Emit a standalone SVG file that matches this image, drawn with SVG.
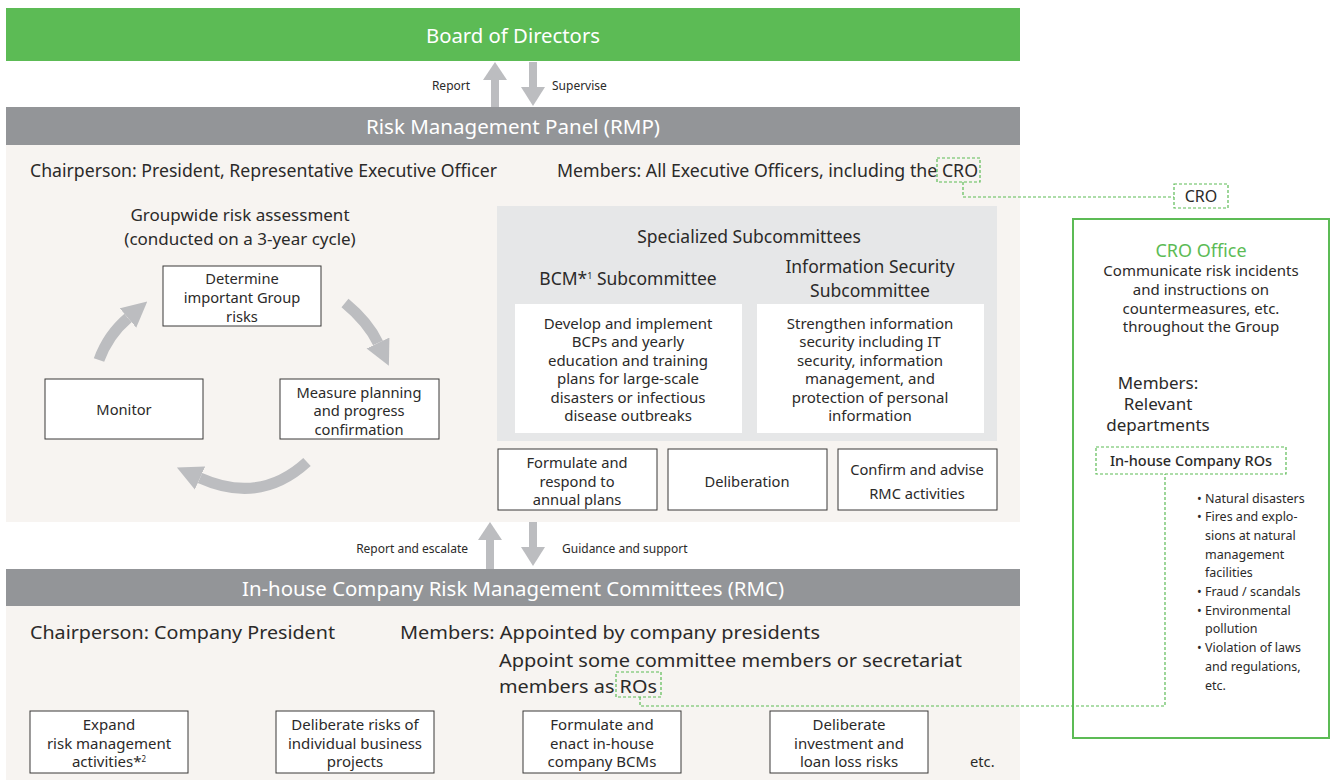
<svg xmlns="http://www.w3.org/2000/svg" width="1330" height="780" viewBox="0 0 1330 780">
<defs>
<style>
text{font-family:"Noto Sans","Open Sans","DejaVu Sans",sans-serif;fill:#2b2a29}
.w{fill:#fff}
.c{text-anchor:middle}
.s12{font-size:12px}
.s14{font-size:14.7px}
.s16{font-size:17.5px}
.s17{font-size:17px}
.s18{font-size:18px}
.b15{font-size:15px}
.box{fill:#fff;stroke:#3a3839;stroke-width:1}
.dash{fill:none;stroke:#5cbb55;stroke-width:1.2;stroke-dasharray:3 2}
.cyc{fill:none;stroke:#bcbdc0;stroke-width:11}
.g{fill:#bcbdc0}
</style>
<marker id="ah" viewBox="0 0 10 10" refX="0" refY="5" markerWidth="2.3" markerHeight="2.4" orient="auto" markerUnits="strokeWidth">
<path d="M0,0 L10,5 L0,10 Z" fill="#bcbdc0"/>
</marker>
</defs>

<!-- backgrounds -->
<rect x="6" y="145" width="1014" height="377" fill="#f7f4f1"/>
<rect x="6" y="606" width="1014" height="174" fill="#f7f4f1"/>

<g id="board">
<rect x="6" y="8" width="1014" height="53" fill="#5cbb55"/>
<text class="w c" x="513" y="43" font-size="20" textLength="174" lengthAdjust="spacingAndGlyphs">Board of Directors</text>
</g>

<g id="rmp">
<rect x="6" y="107" width="1014" height="38" fill="#939598"/>
<text class="w c" x="513" y="134" font-size="19" textLength="294" lengthAdjust="spacingAndGlyphs">Risk Management Panel (RMP)</text>
<text class="s18" x="30" y="177" textLength="467" lengthAdjust="spacingAndGlyphs">Chairperson: President, Representative Executive Officer</text>
<text class="s18" x="557" y="177" textLength="421" lengthAdjust="spacingAndGlyphs">Members: All Executive Officers, including the CRO</text>
<rect class="dash" x="937" y="158" width="43" height="24"/>
</g>

<g id="cycle">
<text class="s17 c" x="240" y="221">Groupwide risk assessment</text>
<text class="s17 c" x="240" y="245">(conducted on a 3-year cycle)</text>
</g>
<g id="determine">
<rect class="box" x="163" y="266" width="158" height="60"/>
<text class="s14 c" x="242" y="284">Determine</text>
<text class="s14 c" x="242" y="303">important Group</text>
<text class="s14 c" x="242" y="322">risks</text>
</g>
<g id="monitor">
<rect class="box" x="45" y="379" width="158" height="60"/>
<text class="s14 c" x="124" y="415">Monitor</text>
</g>
<g id="measure">
<rect class="box" x="280" y="379" width="159" height="60"/>
<text class="s14 c" x="359" y="398">Measure planning</text>
<text class="s14 c" x="359" y="416">and progress</text>
<text class="s14 c" x="359" y="435">confirmation</text>
</g>

<g id="subcommittees">
<rect x="497" y="206" width="500" height="235" fill="#e6e7e8"/>
<text class="s16 c" x="749" y="243">Specialized Subcommittees</text>
<text class="s16 c" x="628" y="285">BCM*<tspan font-size="9" dy="-6">1</tspan><tspan dy="6"> Subcommittee</tspan></text>
<text class="s16 c" x="870" y="273">Information Security</text>
<text class="s16 c" x="870" y="297">Subcommittee</text>
</g>
<g id="bcm">
<rect x="515" y="304" width="227" height="129" fill="#fff"/>
<text class="b15 c" x="628" y="329">Develop and implement</text>
<text class="b15 c" x="628" y="347">BCPs and yearly</text>
<text class="b15 c" x="628" y="366">education and training</text>
<text class="b15 c" x="628" y="384">plans for large-scale</text>
<text class="b15 c" x="628" y="403">disasters or infectious</text>
<text class="b15 c" x="628" y="421">disease outbreaks</text>
</g>
<g id="infosec">
<rect x="757" y="304" width="227" height="129" fill="#fff"/>
<text class="b15 c" x="870" y="329">Strengthen information</text>
<text class="b15 c" x="870" y="347">security including IT</text>
<text class="b15 c" x="870" y="366">security, information</text>
<text class="b15 c" x="870" y="384">management, and</text>
<text class="b15 c" x="870" y="403">protection of personal</text>
<text class="b15 c" x="870" y="421">information</text>
</g>
<g id="formulate">
<rect class="box" x="498" y="449" width="159" height="61"/>
<text class="s14 c" x="577" y="468">Formulate and</text>
<text class="s14 c" x="577" y="487">respond to</text>
<text class="s14 c" x="577" y="505">annual plans</text>
</g>
<g id="deliberation">
<rect class="box" x="668" y="449" width="159" height="61"/>
<text class="s14 c" x="747" y="487">Deliberation</text>
</g>
<g id="confirm">
<rect class="box" x="838" y="449" width="159" height="61"/>
<text class="s14 c" x="917" y="475">Confirm and advise</text>
<text class="s14 c" x="917" y="499">RMC activities</text>
</g>

<g id="rmc">
<rect x="6" y="569" width="1014" height="37" fill="#939598"/>
<text class="w c" x="513" y="596" font-size="19" textLength="542" lengthAdjust="spacingAndGlyphs">In-house Company Risk Management Committees (RMC)</text>
<text class="s18" x="30" y="639" textLength="305" lengthAdjust="spacingAndGlyphs">Chairperson: Company President</text>
<text class="s18" x="400" y="639" textLength="420" lengthAdjust="spacingAndGlyphs">Members: Appointed by company presidents</text>
<text class="s18" x="499" y="667" textLength="463" lengthAdjust="spacingAndGlyphs">Appoint some committee members or secretariat</text>
<text class="s18" x="499" y="693" textLength="158" lengthAdjust="spacingAndGlyphs">members as ROs</text>
<rect class="dash" x="616" y="672" width="45" height="25"/>
</g>

<g id="expand">
<rect class="box" x="30" y="711" width="158" height="62"/>
<text class="b15 c" x="109" y="730">Expand</text>
<text class="b15 c" x="109" y="749">risk management</text>
<text class="b15 c" x="109" y="767">activities*<tspan font-size="8" dy="-5">2</tspan></text>
</g>
<g id="deliberate-risks">
<rect class="box" x="276" y="711" width="158" height="62"/>
<text class="b15 c" x="355" y="730">Deliberate risks of</text>
<text class="b15 c" x="355" y="749">individual business</text>
<text class="b15 c" x="355" y="767">projects</text>
</g>
<g id="enact">
<rect class="box" x="523" y="711" width="158" height="62"/>
<text class="b15 c" x="602" y="730">Formulate and</text>
<text class="b15 c" x="602" y="749">enact in-house</text>
<text class="b15 c" x="602" y="767">company BCMs</text>
</g>
<g id="loss">
<rect class="box" x="770" y="711" width="158" height="62"/>
<text class="b15 c" x="849" y="730">Deliberate</text>
<text class="b15 c" x="849" y="749">investment and</text>
<text class="b15 c" x="849" y="767">loan loss risks</text>
</g>
<text class="s14" x="970" y="767">etc.</text>

<g id="cro">
<rect class="dash" x="1174" y="184" width="54" height="24"/>
<text class="c" x="1201" y="202" font-size="16">CRO</text>
</g>

<g id="cro-office">
<rect x="1073" y="219" width="256" height="519" fill="none" stroke="#5cbb55" stroke-width="2"/>
<text class="c" x="1201" y="257" font-size="18" style="fill:#5cbb55">CRO Office</text>
<text class="b15 c" x="1201" y="276">Communicate risk incidents</text>
<text class="b15 c" x="1201" y="295">and instructions on</text>
<text class="b15 c" x="1201" y="314">countermeasures, etc.</text>
<text class="b15 c" x="1201" y="332">throughout the Group</text>
<text class="s17 c" x="1158" y="389">Members:</text>
<text class="s17 c" x="1158" y="410">Relevant</text>
<text class="s17 c" x="1158" y="431">departments</text>
<rect class="dash" x="1096" y="447" width="190" height="27"/>
<text class="c" x="1191" y="466" font-size="14.5" font-weight="500">In-house Company ROs</text>
<g>
<text x="1197" y="503" font-size="12.5">• Natural disasters</text>
<text x="1197" y="521" font-size="12.5">• Fires and explo-</text>
<text x="1205" y="540" font-size="12.5">sions at natural</text>
<text x="1205" y="559" font-size="12.5">management</text>
<text x="1205" y="577" font-size="12.5">facilities</text>
<text x="1197" y="596" font-size="12.5">• Fraud / scandals</text>
<text x="1197" y="615" font-size="12.5">• Environmental</text>
<text x="1205" y="633" font-size="12.5">pollution</text>
<text x="1197" y="652" font-size="12.5">• Violation of laws</text>
<text x="1205" y="671" font-size="12.5">and regulations,</text>
<text x="1205" y="690" font-size="12.5">etc.</text>
</g>
</g>

<g id="connectors">
<!-- Board <-> RMP -->
<rect class="g" x="491" y="78" width="8" height="29"/>
<path class="g" d="M483,80 L495,62 L507,80 Z"/>
<rect class="g" x="529" y="62" width="8" height="27"/>
<path class="g" d="M521,87 L533,106 L545,87 Z"/>
<text class="s12 c" x="451" y="90">Report</text>
<text class="s12" x="552" y="90">Supervise</text>
<!-- RMP <-> RMC -->
<rect class="g" x="486" y="538" width="8" height="31"/>
<path class="g" d="M478,540 L490,522 L502,540 Z"/>
<rect class="g" x="529" y="522" width="8" height="27"/>
<path class="g" d="M521,547 L533,566 L545,547 Z"/>
<text class="s12" x="468" y="553" text-anchor="end">Report and escalate</text>
<text class="s12" x="562" y="553">Guidance and support</text>
<!-- cycle -->
<path class="cyc" d="M99,360 Q108,335 128,318" marker-end="url(#ah)"/>
<path class="cyc" d="M345,303 Q368,322 378,343" marker-end="url(#ah)"/>
<path class="cyc" d="M307,462 Q260,505 200,478" marker-end="url(#ah)"/>
<!-- dashed links -->
<path class="dash" d="M963,182 V197 H1174"/>
<path class="dash" d="M640,697 V706 H1165 V474"/>
</g>
</svg>
